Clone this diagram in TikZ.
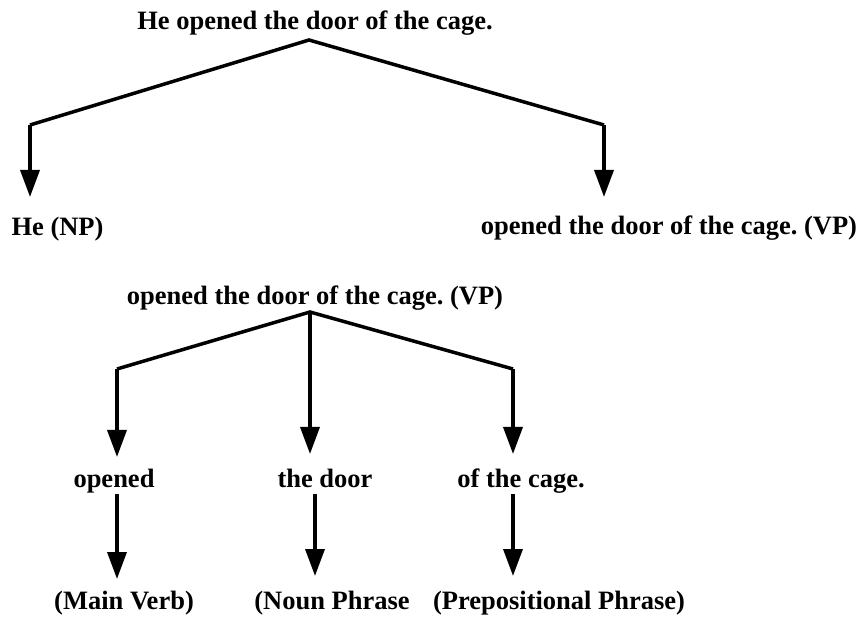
\documentclass[tikz,border=0pt]{standalone}
\usepackage{fontspec}
\setmainfont{Liberation Serif}
\usetikzlibrary{arrows.meta}
\frenchspacing
\begin{document}
\begin{tikzpicture}[x=1pt,y=-1pt,
  lbl/.style={font=\fontsize{26.5}{30}\selectfont\bfseries, inner sep=0pt, anchor=base},
  branch/.style={line width=3.5pt, line cap=butt, line join=miter},
  arr/.style={branch, -{Triangle[length=27pt,width=19pt]}}]
\useasboundingbox (0,0) rectangle (865,617);
% top tree
\node[lbl] (s) at (315,30) {He opened the door of the cage.};
\node[lbl] (np) at (57.5,236) {He (NP)};
\node[lbl] (vp) at (669,235) {opened the door of the cage. (VP)};
\coordinate (a1) at (309,40);
\coordinate (c1l) at (30,125);
\coordinate (c1r) at (604,125);
\coordinate (t1l) at (30,197);
\coordinate (t1r) at (604,197);
\draw[branch] (c1l) -- (a1) -- (c1r);
\draw[arr] (c1l) -- (t1l);
\draw[arr] (c1r) -- (t1r);
% second tree
\node[lbl] (vp2) at (315,305) {opened the door of the cage. (VP)};
\coordinate (a2) at (310,312);
\coordinate (c2l) at (117,369);
\coordinate (c2r) at (513,369);
\coordinate (t2l) at (117,457);
\coordinate (t2m) at (310,454);
\coordinate (t2r) at (513,454);
\draw[branch] (c2l) -- (a2) -- (c2r);
\draw[arr] (c2l) -- (t2l);
\draw[arr] (a2) -- (t2m);
\draw[arr] (c2r) -- (t2r);
\node[lbl] (v) at (114,487) {opened};
\node[lbl] (n) at (325,487) {the door};
\node[lbl] (p) at (521,487) {of the cage.};
\node[lbl] (mv) at (124,609) {(Main Verb)};
\node[lbl] (nph) at (332,609) {(Noun Phrase};
\node[lbl] (pp) at (559,609) {(Prepositional Phrase)};
\coordinate (s3l) at (117,494);
\coordinate (s3m) at (315,494);
\coordinate (s3r) at (513,494);
\coordinate (t3l) at (117,579);
\coordinate (t3m) at (315,576);
\coordinate (t3r) at (513,576);
\draw[arr] (s3l) -- (t3l);
\draw[arr] (s3m) -- (t3m);
\draw[arr] (s3r) -- (t3r);
\end{tikzpicture}
\end{document}
